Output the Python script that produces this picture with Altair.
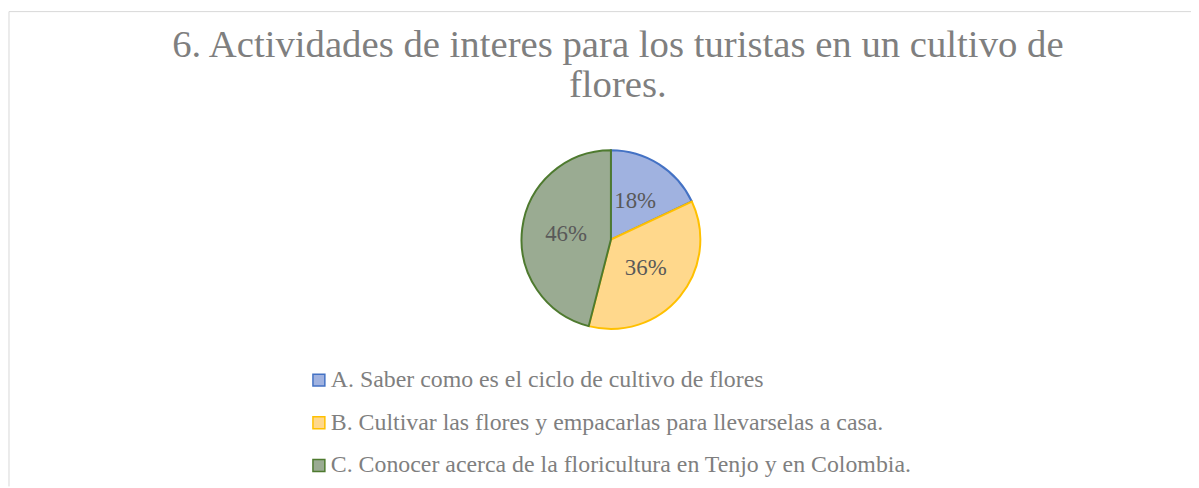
import altair as alt
import pandas as pd

categories = [
    "A. Saber como es el ciclo de cultivo de flores",
    "B. Cultivar las flores y empacarlas para llevarselas a casa.",
    "C. Conocer acerca de la floricultura en Tenjo y en Colombia.",
]
values = [18, 36, 46]
labels = ["18%", "36%", "46%"]
fill_colors = ["#a0b2e0", "#ffd88c", "#9aab92"]
stroke_colors = ["#4472c4", "#ffc000", "#4e7a2f"]
title_lines = ["6. Actividades de interes para los turistas en un cultivo de", "flores."]

FONT = "Liberation Serif"
W, H = 1190, 478
CX, CY = 606, 229.5

df = pd.DataFrame({"cat": categories, "value": values, "label": labels, "order": [0, 1, 2]})

base = alt.Chart(df).encode(
    theta=alt.Theta("value:Q", stack=True),
    order=alt.Order("order:Q"),
)

legend = alt.Legend(
    title=None,
    orient="none",
    legendX=300,
    legendY=359,
    direction="vertical",
    symbolType="square",
    symbolSize=144,
    symbolStrokeWidth=1.5,
    labelFont=FONT,
    labelFontSize=24,
    labelColor="#7f7f7f",
    labelOffset=0,
    rowPadding=19,
    padding=0,
    labelLimit=0,
)

pie = base.mark_arc(outerRadius=90, strokeWidth=2).encode(
    x=alt.value(CX),
    y=alt.value(CY),
    fill=alt.Fill("cat:N", scale=alt.Scale(domain=categories, range=fill_colors), legend=legend),
    stroke=alt.Stroke("cat:N", scale=alt.Scale(domain=categories, range=stroke_colors), legend=legend),
)

pct = base.mark_text(radius=45.5, fontSize=23, font=FONT, color="#595959").encode(
    x=alt.value(CX),
    y=alt.value(CY),
    text="label:N",
)

t1 = alt.Chart(pd.DataFrame({"t": [title_lines[0]]})).mark_text(
    font=FONT, fontSize=39, color="#7f7f7f", align="center", baseline="alphabetic"
).encode(text="t:N", x=alt.value(613), y=alt.value(46))

t2 = alt.Chart(pd.DataFrame({"t": [title_lines[1]]})).mark_text(
    font=FONT, fontSize=39, color="#7f7f7f", align="center", baseline="alphabetic"
).encode(text="t:N", x=alt.value(613), y=alt.value(86))

border_top = alt.Chart(pd.DataFrame({"a": [0]})).mark_rule(color="#d9d9d9", strokeWidth=1).encode(
    x=alt.value(0), x2=alt.value(W), y=alt.value(0)
)
border_left = alt.Chart(pd.DataFrame({"a": [0]})).mark_rule(color="#d9d9d9", strokeWidth=1).encode(
    x=alt.value(0), y=alt.value(0), y2=alt.value(H)
)

chart = (
    alt.layer(border_top, border_left, pie, pct, t1, t2)
    .properties(
        width=W,
        height=H,
        autosize=alt.AutoSizeParams(type="none"),
        padding={"left": 1, "top": 2, "right": 0, "bottom": 0},
        background="white",
    )
    .configure_view(stroke=None)
)

chart.save("out.html", embed_options={"renderer": "svg", "actions": False})
